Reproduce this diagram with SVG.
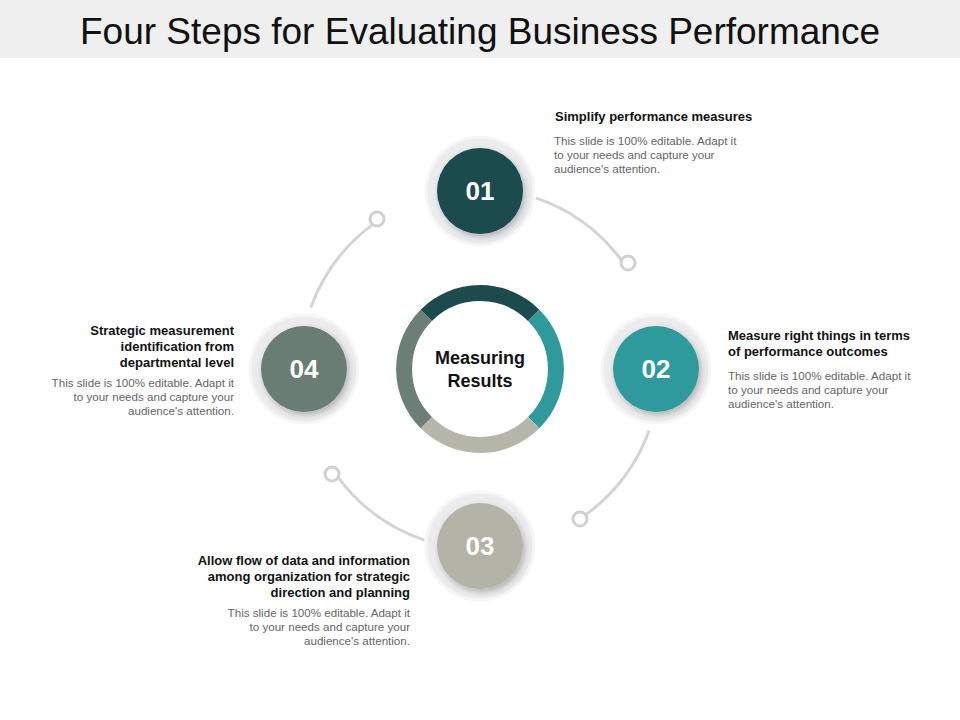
<svg xmlns="http://www.w3.org/2000/svg" width="960" height="720" viewBox="0 0 960 720">
<defs>
<style>
.title{font-family:"Liberation Sans",Arial,sans-serif;font-size:37px;fill:#111;text-anchor:middle}
.num{font-family:"Liberation Sans",Arial,sans-serif;font-size:26px;font-weight:bold;fill:#fff;text-anchor:middle}
.hd{font-family:"Liberation Sans",Arial,sans-serif;font-size:13px;font-weight:bold;fill:#111}
.bd{font-family:"Liberation Sans",Arial,sans-serif;font-size:11.6px;fill:#666}
.halo{fill:#ececee;stroke:#f6f6f7;stroke-width:3}
.conn{fill:none;stroke:#d4d4d4;stroke-width:3}
.dot{fill:#fff;stroke:#d0d0d0;stroke-width:3}
</style>
<filter id="sh" x="-30%" y="-30%" width="160%" height="160%"><feDropShadow dx="2" dy="3" stdDeviation="3" flood-color="#000" flood-opacity="0.25"/></filter>
</defs>
<rect x="0" y="0" width="960" height="58" fill="#efefef"/>
<text class="title" x="480" y="44">Four Steps for Evaluating Business Performance</text>
<g id="connectors">
<path class="conn" d="M535.9,197.8 A180,180 0 0 1 623.5,262.9"/>
<circle class="dot" cx="628" cy="263" r="7"/>
<path class="conn" d="M649.1,430.6 A180,180 0 0 1 583.3,516.5"/>
<circle class="dot" cx="580" cy="519" r="7"/>
<path class="conn" d="M424.4,540.2 A180,180 0 0 1 336.6,475.4"/>
<circle class="dot" cx="332" cy="474" r="7"/>
<path class="conn" d="M310.8,307.4 A180,180 0 0 1 374.2,223.4"/>
<circle class="dot" cx="377" cy="219" r="7"/>
</g>
<g id="center">
<path d="M426.3,315.3 A76,76 0 0 1 533.7,315.3" fill="none" stroke="#1d4a4c" stroke-width="16"/>
<path d="M533.7,315.3 A76,76 0 0 1 533.7,422.7" fill="none" stroke="#2e9a9b" stroke-width="16"/>
<path d="M533.7,422.7 A76,76 0 0 1 426.3,422.7" fill="none" stroke="#b5b5a9" stroke-width="16"/>
<path d="M426.3,422.7 A76,76 0 0 1 426.3,315.3" fill="none" stroke="#6b7f77" stroke-width="16"/>
<text class="num" x="480" y="364" style="fill:#111;font-size:18px">Measuring</text>
<text class="num" x="480" y="387" style="fill:#111;font-size:18px">Results</text>
</g>
<g id="node01">
<circle class="halo" cx="480" cy="191" r="54"/>
<circle cx="480" cy="191" r="43" fill="#1a4b4d" filter="url(#sh)"/>
<text class="num" x="480" y="200">01</text>
<text class="hd" x="555" y="121">Simplify performance measures</text>
<text class="bd" x="554" y="145">This slide is 100% editable. Adapt it</text>
<text class="bd" x="554" y="159">to your needs and capture your</text>
<text class="bd" x="554" y="173">audience's attention.</text>
</g>
<g id="node02">
<circle class="halo" cx="656" cy="369" r="54"/>
<circle cx="656" cy="369" r="43" fill="#2f9a9b" filter="url(#sh)"/>
<text class="num" x="656" y="378">02</text>
<text class="hd" x="728" y="340">Measure right things in terms</text>
<text class="hd" x="728" y="356">of performance outcomes</text>
<text class="bd" x="728" y="380">This slide is 100% editable. Adapt it</text>
<text class="bd" x="728" y="394">to your needs and capture your</text>
<text class="bd" x="728" y="408">audience's attention.</text>
</g>
<g id="node03">
<circle class="halo" cx="480" cy="546" r="54"/>
<circle cx="480" cy="546" r="43" fill="#b3b3a7" filter="url(#sh)"/>
<text class="num" x="480" y="555">03</text>
<text class="hd" x="410" y="565" text-anchor="end">Allow flow of data and information</text>
<text class="hd" x="410" y="581" text-anchor="end">among organization for strategic</text>
<text class="hd" x="410" y="597" text-anchor="end">direction and planning</text>
<text class="bd" x="410" y="617" text-anchor="end">This slide is 100% editable. Adapt it</text>
<text class="bd" x="410" y="631" text-anchor="end">to your needs and capture your</text>
<text class="bd" x="410" y="645" text-anchor="end">audience's attention.</text>
</g>
<g id="node04">
<circle class="halo" cx="304" cy="369" r="54"/>
<circle cx="304" cy="369" r="43" fill="#6b7d75" filter="url(#sh)"/>
<text class="num" x="304" y="378">04</text>
<text class="hd" x="234" y="335" text-anchor="end">Strategic measurement</text>
<text class="hd" x="234" y="351" text-anchor="end">identification from</text>
<text class="hd" x="234" y="367" text-anchor="end">departmental level</text>
<text class="bd" x="234" y="387" text-anchor="end">This slide is 100% editable. Adapt it</text>
<text class="bd" x="234" y="401" text-anchor="end">to your needs and capture your</text>
<text class="bd" x="234" y="415" text-anchor="end">audience's attention.</text>
</g>
</svg>
